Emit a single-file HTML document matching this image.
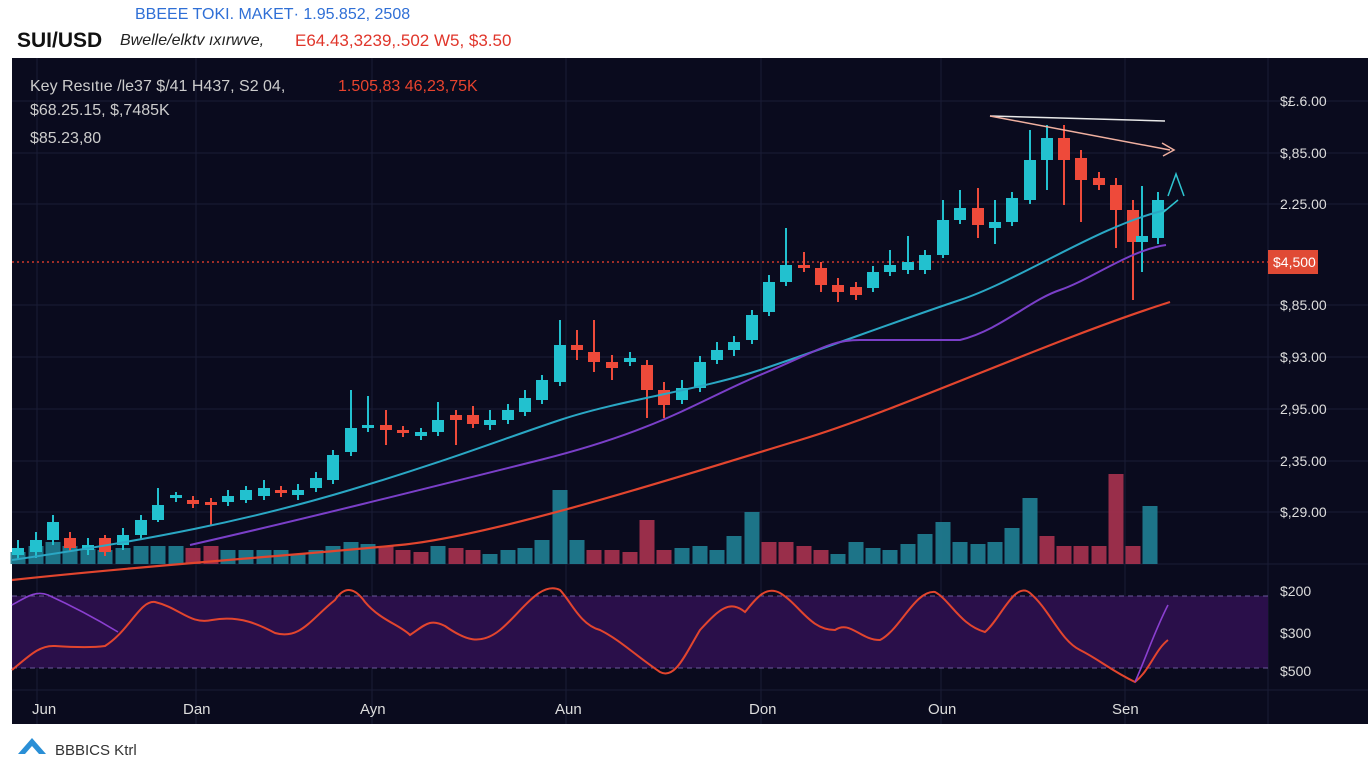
<!DOCTYPE html>
<html><head><meta charset="utf-8"><style>
body{margin:0;width:1368px;height:768px;background:#fff;overflow:hidden;font-family:"Liberation Sans",sans-serif;position:relative}
.t{position:absolute;white-space:nowrap}
</style></head><body>
<div class="t" style="left:135px;top:6px;font-size:16px;color:#2f6fd6">BBEEE TOKI. MAKET· 1.95.852, 2508</div>
<div class="t" style="left:17px;top:29px;font-size:21px;font-weight:bold;color:#111">SUI/USD</div>
<div class="t" style="left:120px;top:32px;font-size:16px;color:#222;font-style:italic">Bwelle/elktv ıxırwve,</div>
<div class="t" style="left:295px;top:31px;font-size:17px;color:#e0362b">E64.43,3239,.502 W5, $3.50</div>
<svg width="1368" height="768" style="position:absolute;left:0;top:0" id="s">
<rect x="12" y="58" width="1356" height="666" fill="#0a0b1e"/>
<g stroke="#1a1d36" stroke-width="1">
<line x1="37" y1="58" x2="37" y2="724"/><line x1="196" y1="58" x2="196" y2="724"/><line x1="372" y1="58" x2="372" y2="724"/><line x1="566" y1="58" x2="566" y2="724"/><line x1="761" y1="58" x2="761" y2="724"/><line x1="941" y1="58" x2="941" y2="724"/><line x1="1125" y1="58" x2="1125" y2="724"/><line x1="1268" y1="58" x2="1268" y2="724"/>
<line x1="12" y1="101" x2="1368" y2="101"/><line x1="12" y1="153" x2="1368" y2="153"/><line x1="12" y1="204" x2="1368" y2="204"/><line x1="12" y1="305" x2="1368" y2="305"/><line x1="12" y1="357" x2="1368" y2="357"/><line x1="12" y1="409" x2="1368" y2="409"/><line x1="12" y1="461" x2="1368" y2="461"/><line x1="12" y1="512" x2="1368" y2="512"/><line x1="12" y1="564" x2="1368" y2="564"/><line x1="12" y1="690" x2="1368" y2="690"/>
</g>
<rect x="12" y="596" width="1256" height="72" fill="#2a0f4a"/>
<line x1="12" y1="596" x2="1268" y2="596" stroke="#6a5a9a" stroke-dasharray="5,4"/>
<line x1="12" y1="668" x2="1268" y2="668" stroke="#6a5a9a" stroke-dasharray="5,4"/>
<line x1="12" y1="262" x2="1268" y2="262" stroke="#d0392b" stroke-dasharray="2,3" stroke-width="1.5"/>
<g id="vol"></g><g id="c"></g>
<path d="M12,560 C150,540 250,520 350,490 S500,440 560,420 S700,390 760,370 S900,320 960,300 S1100,225 1166,210" fill="none" stroke="#2aa7c4" stroke-width="2"/>
<path d="M190,545 C300,520 420,490 540,460 S700,400 760,375 S830,340 860,340 L960,340 C1000,330 1030,300 1060,290 S1130,250 1166,245" fill="none" stroke="#7a3fc8" stroke-width="2"/>
<path d="M12,580 C150,565 300,555 400,545 S700,470 800,440 S1050,340 1170,302" fill="none" stroke="#e2452e" stroke-width="2.2"/>
<path d="M12,670 C30,655 40,645 55,646 S90,648 105,646 C130,630 140,600 155,602 C180,608 190,625 212,620 C240,615 260,625 275,633 C300,640 310,620 335,600 C345,585 355,588 365,602 C380,620 400,625 410,635 C425,625 430,618 445,626 C465,640 480,646 500,630 C520,614 540,580 560,590 C570,600 580,625 600,630 C620,640 635,655 660,672 C675,680 685,655 700,630 C720,608 730,600 745,612 C755,600 765,585 780,593 C800,605 810,630 835,630 C850,620 860,640 880,640 C900,630 915,590 935,592 C950,600 960,625 985,632 C1000,620 1015,580 1030,593 C1050,610 1060,640 1080,650 C1100,660 1110,670 1135,682 C1150,670 1155,650 1168,640" fill="none" stroke="#e2452e" stroke-width="2"/>
<path d="M12,605 C25,598 35,590 48,595 C70,605 90,615 118,632" fill="none" stroke="#8a3fd0" stroke-width="1.6"/>
<path d="M1135,682 C1145,660 1155,630 1168,605" fill="none" stroke="#8a3fd0" stroke-width="1.6"/>
<line x1="990" y1="116" x2="1165" y2="121" stroke="#e8e8e8" stroke-width="1.5"/>
<line x1="990" y1="116" x2="1170" y2="150" stroke="#f0b0a0" stroke-width="1.5"/>
<path d="M1162,143 L1174,150 L1163,156" fill="none" stroke="#f0b0a0" stroke-width="1.5"/>
<path d="M1168,196 L1176,174 L1184,196" fill="none" stroke="#2ec4d0" stroke-width="1.5"/>
<line x1="1160" y1="215" x2="1178" y2="200" stroke="#2ec4d0" stroke-width="1.5"/>
<rect x="1268" y="250" width="50" height="24" fill="#e04a35"/>
<g font-family="Liberation Sans" font-size="14" fill="#ddd">
<text x="1280" y="106">$£.6.00</text><text x="1280" y="158">$,85.00</text><text x="1280" y="209">2.25.00</text><text x="1273" y="267" fill="#fff">$4,500</text><text x="1280" y="310">$,85.00</text><text x="1280" y="362">$,93.00</text><text x="1280" y="414">2,95.00</text><text x="1280" y="466">2,35.00</text><text x="1280" y="517">$,29.00</text>
<text x="1280" y="596">$200</text><text x="1280" y="638">$300</text><text x="1280" y="676">$500</text>
<text x="32" y="714" font-size="15">Jun</text><text x="183" y="714" font-size="15">Dan</text><text x="360" y="714" font-size="15">Ayn</text><text x="555" y="714" font-size="15">Aun</text><text x="749" y="714" font-size="15">Don</text><text x="928" y="714" font-size="15">Oun</text><text x="1112" y="714" font-size="15">Sen</text>
<text x="30" y="91" font-size="16" fill="#ccc">Key Resıtıe /le37 $/41  H437, S2 04,</text><text x="338" y="91" font-size="16" fill="#e8432e">1.505,83 46,23,75K</text>
<text x="30" y="115" font-size="16" fill="#ccc">$68.25.15, $,7485K</text>
<text x="30" y="143" font-size="16" fill="#ccc">$85.23,80</text>
</g>
<path d="M18,754 L32,738 L46,754 L39,754 L32,746 L25,754 Z" fill="#2a8fd6"/>
<text x="55" y="755" font-family="Liberation Sans" font-size="15" fill="#333">BBBICS Ktrl</text>
</svg>
<script>
var T='#22c1cf',R='#ee4a3a';
var C=[[18,548,555,540,560,T],[36,540,552,532,558,T],[53,522,540,515,545,T],[70,538,548,532,552,R],[88,545,550,538,555,T],[105,538,552,535,556,R],[123,535,545,528,550,T],[141,520,535,515,540,T],[158,505,520,488,522,T],[176,495,498,492,502,T],[193,500,504,496,508,R],[211,502,505,498,526,R],[228,496,502,490,506,T],[246,490,500,486,503,T],[264,488,496,480,500,T],[281,490,493,486,497,R],[298,490,495,484,500,T],[316,478,488,472,492,T],[333,455,480,450,484,T],[351,428,452,390,456,T],[368,425,428,396,432,T],[386,425,430,410,445,R],[403,430,433,426,437,R],[421,432,436,428,440,T],[438,420,432,402,436,T],[456,415,420,410,445,R],[473,415,424,406,428,R],[490,420,425,410,430,T],[508,410,420,404,424,T],[525,398,412,390,416,T],[542,380,400,375,404,T],[560,345,382,320,386,T],[577,345,350,330,360,R],[594,352,362,320,372,R],[612,362,368,355,380,R],[630,358,362,352,366,T],[647,365,390,360,418,R],[664,390,405,382,418,R],[682,388,400,380,404,T],[700,362,388,356,392,T],[717,350,360,342,364,T],[734,342,350,336,356,T],[752,315,340,310,344,T],[769,282,312,275,316,T],[786,265,282,228,286,T],[804,265,268,252,272,R],[821,268,285,262,292,R],[838,285,292,278,302,R],[856,287,295,282,300,R],[873,272,288,266,292,T],[890,265,272,250,276,T],[908,262,270,236,274,T],[925,255,270,250,274,T],[943,220,255,200,258,T],[960,208,220,190,224,T],[978,208,225,188,238,R],[995,222,228,200,244,T],[1012,198,222,192,226,T],[1030,160,200,130,204,T],[1047,138,160,125,190,T],[1064,138,160,125,205,R],[1081,158,180,150,222,R],[1099,178,185,172,190,R],[1116,185,210,178,248,R],[1133,210,242,200,300,R],[1142,236,242,186,272,T],[1158,200,238,192,244,T]];
var V=[[18,12,T],[36,18,T],[53,22,T],[70,18,T],[88,15,T],[105,14,T],[123,16,T],[141,18,T],[158,18,T],[176,18,T],[193,16,R],[211,18,R],[228,14,T],[246,14,T],[264,14,T],[281,14,T],[298,10,T],[316,14,T],[333,18,T],[351,22,T],[368,20,T],[386,18,R],[403,14,R],[421,12,R],[438,18,T],[456,16,R],[473,14,R],[490,10,T],[508,14,T],[525,16,T],[542,24,T],[560,74,T],[577,24,T],[594,14,R],[612,14,R],[630,12,R],[647,44,R],[664,14,R],[682,16,T],[700,18,T],[717,14,T],[734,28,T],[752,52,T],[769,22,R],[786,22,R],[804,18,R],[821,14,R],[838,10,T],[856,22,T],[873,16,T],[890,14,T],[908,20,T],[925,30,T],[943,42,T],[960,22,T],[978,20,T],[995,22,T],[1012,36,T],[1030,66,T],[1047,28,R],[1064,18,R],[1081,18,R],[1099,18,R],[1116,90,R],[1133,18,R],[1150,58,T]];
var s='';V.forEach(function(v){s+='<rect x="'+(v[0]-7.5)+'" y="'+(564-v[1])+'" width="15" height="'+v[1]+'" fill="'+(v[2]==T?'#1f7f93':'#a8324f')+'" opacity="0.9"/>';});
document.getElementById('vol').innerHTML=s;s='';
C.forEach(function(c){s+='<line x1="'+c[0]+'" y1="'+c[3]+'" x2="'+c[0]+'" y2="'+c[4]+'" stroke="'+c[5]+'" stroke-width="2"/><rect x="'+(c[0]-6)+'" y="'+c[1]+'" width="12" height="'+Math.max(3,c[2]-c[1])+'" fill="'+c[5]+'"/>';});
document.getElementById('c').innerHTML=s;
</script>
</body></html>
